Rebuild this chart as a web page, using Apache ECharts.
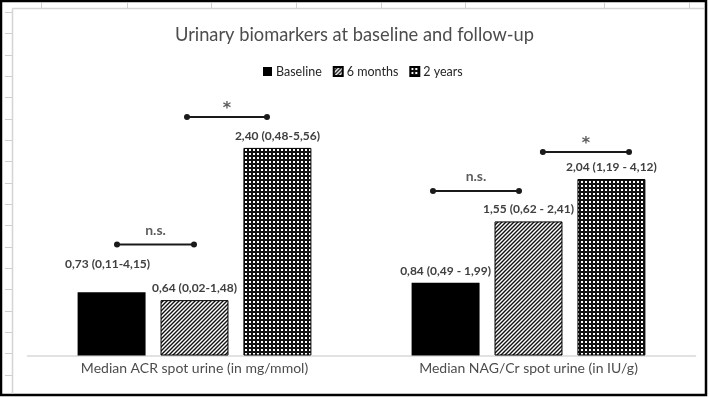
<!DOCTYPE html>
<html>
<head>
<meta charset="utf-8">
<script src="https://cdn.jsdelivr.net/npm/echarts@6/dist/echarts.min.js"></script>
<style>
html,body{margin:0;padding:0;background:#fff;}
#chart{width:709px;height:397px;}
</style>
</head>
<body>
<div id="chart"></div>
<script>
// ---- data ----
const categories = ['Median ACR spot urine (in mg/mmol)', 'Median NAG/Cr spot urine (in IU/g)'];
const seriesNames = ['Baseline', '6 months', '2 years'];
const baseline = [0.73, 0.84];
const sixMonths = [0.64, 1.55];
const twoYears = [2.40, 2.04];
const baselineLabels = ['0,73 (0,11-4,15)', '0,84 (0,49 - 1,99)'];
const sixMonthsLabels = ['0,64 (0,02-1,48)', '1,55 (0,62 - 2,41)'];
const twoYearsLabels = ['2,40 (0,48-5,56)', '2,04 (1,19 - 4,12)'];
// significance brackets (x in category units: 0..2 across the two groups, y in data units)
const bracketFrom = [0.268, 0.4775, 1.214, 1.543];
const bracketTo = [0.4985, 0.717, 1.4716, 1.801];
const bracketLevel = [1.283, 2.757, 1.902, 2.353];
const bracketText = ['n.s.', '*', 'n.s.', '*'];

// ---- patterns ----
function hatchPattern() {
  const c = document.createElement('canvas');
  c.width = 4; c.height = 4;
  const g = c.getContext('2d');
  g.fillStyle = '#fff'; g.fillRect(0, 0, 4, 4);
  g.strokeStyle = '#111'; g.lineWidth = 1.4;
  g.beginPath();
  g.moveTo(-1, 5); g.lineTo(5, -1);
  g.moveTo(-1, 1); g.lineTo(1, -1);
  g.moveTo(3, 5); g.lineTo(5, 3);
  g.stroke();
  return c;
}
function gridPattern() {
  const c = document.createElement('canvas');
  c.width = 4; c.height = 4;
  const g = c.getContext('2d');
  g.fillStyle = '#111'; g.fillRect(0, 0, 4, 4);
  g.fillStyle = '#fff'; g.fillRect(1, 1, 2, 2);
  return c;
}
const fills = [
  '#000',
  { image: hatchPattern(), repeat: 'repeat' },
  { image: gridPattern(), repeat: 'repeat' }
];

const FONT = 'Lato';
const labelStyle = { color: '#404040', fontFamily: FONT, fontSize: 12, fontWeight: 'bold' };

function barSeries(idx, values, labels) {
  return {
    name: seriesNames[idx],
    type: 'bar',
    xAxisIndex: 0,
    barGap: '22%',
    barCategoryGap: '30%',
    itemStyle: { color: fills[idx], borderColor: '#000', borderWidth: idx === 0 ? 0 : 1 },
    label: Object.assign({ show: true, position: 'top', distance: 6,
      formatter: p => labels[p.dataIndex] }, labelStyle),
    data: values.map((v, i) => {
      const item = { value: v };
      if (idx === 0 && i === 0) item.label = { distance: 22, offset: [-4, 0] };
      return item;
    })
  };
}

const bracketSeries = bracketFrom.map((x0, i) => ({
  type: 'line',
  xAxisIndex: 1,
  silent: true,
  symbol: 'circle',
  symbolSize: 6,
  lineStyle: { color: '#1a1a1a', width: 2 },
  itemStyle: { color: '#1a1a1a' },
  data: [[x0, bracketLevel[i]], [bracketTo[i], bracketLevel[i]]],
  z: 5
}));

function bracketLabels(kind, labelOpts) {
  const idx = bracketText.map((t, i) => i).filter(i => bracketText[i] === kind);
  return {
    type: 'scatter',
    xAxisIndex: 1,
    silent: true,
    symbol: 'circle',
    symbolSize: 1,
    itemStyle: { color: 'rgba(0,0,0,0)' },
    data: idx.map(i => [(bracketFrom[i] + bracketTo[i]) / 2, bracketLevel[i]]),
    label: Object.assign({
      show: true,
      formatter: () => kind,
      color: '#333', fontFamily: FONT, fontWeight: 'bold'
    }, labelOpts),
    z: 6
  };
}

// frame decoration (spreadsheet-like edge)
const frame = [];
frame.push({ type: 'rect', shape: { x: 1, y: 1, width: 705, height: 394 }, style: { fill: 'none', stroke: '#000', lineWidth: 2.5 }, silent: true });
frame.push({ type: 'line', shape: { x1: 12.5, y1: 8.5, x2: 12.5, y2: 394 }, style: { stroke: '#d4d4d4', lineWidth: 1.5 }, silent: true });
frame.push({ type: 'line', shape: { x1: 12.5, y1: 8.5, x2: 704, y2: 8.5 }, style: { stroke: '#d4d4d4', lineWidth: 1.5 }, silent: true });
for (let k = 0; k < 18; k++) {
  const y = Math.round(12 + 21.33 * k) + 0.5;
  frame.push({ type: 'line', shape: { x1: 5, y1: y, x2: 12, y2: y }, style: { stroke: '#cfcfcf', lineWidth: 1 }, silent: true });
}
[41, 127, 211, 296, 381, 465, 604, 689].forEach(x => {
  frame.push({ type: 'line', shape: { x1: x + 0.5, y1: 3, x2: x + 0.5, y2: 8 }, style: { stroke: '#cfcfcf', lineWidth: 1 }, silent: true });
});

const chart = echarts.init(document.getElementById('chart'), null, { renderer: 'canvas' });
chart.setOption({
  animation: false,
  backgroundColor: '#fff',
  title: {
    text: 'Urinary biomarkers at baseline and follow-up',
    left: 'center', top: 21,
    textStyle: { fontFamily: FONT, fontSize: 18.3, fontWeight: 'normal', color: '#4d4d4d' }
  },
  legend: {
    data: seriesNames,
    top: 60,
    left: 258,
    itemWidth: 9, itemHeight: 9, itemGap: 11,
    icon: 'rect',
    textStyle: { fontFamily: FONT, fontSize: 12.5, color: '#262626', padding: [0, 0, 0, -1] }
  },
  grid: { left: 27.5, right: 13.5, top: 96, bottom: 41.5, containLabel: false },
  xAxis: [
    {
      type: 'category', data: categories,
      axisLine: { lineStyle: { color: '#d9d9d9', width: 1.5 } },
      axisTick: { show: false },
      axisLabel: { fontFamily: FONT, fontSize: 14, color: '#4d4d4d', margin: 6 }
    },
    { type: 'value', min: 0, max: 2, show: false }
  ],
  yAxis: { type: 'value', min: 0, max: 3, show: false },
  series: [
    barSeries(0, baseline, baselineLabels),
    barSeries(1, sixMonths, sixMonthsLabels),
    barSeries(2, twoYears, twoYearsLabels),
    ...bracketSeries,
    bracketLabels('n.s.', { position: 'top', distance: 7, fontSize: 14 }),
    bracketLabels('*', { position: 'top', distance: 0, fontSize: 16, fontFamily: 'DejaVu Sans' })
  ],
  graphic: frame
});
</script>
</body>
</html>
